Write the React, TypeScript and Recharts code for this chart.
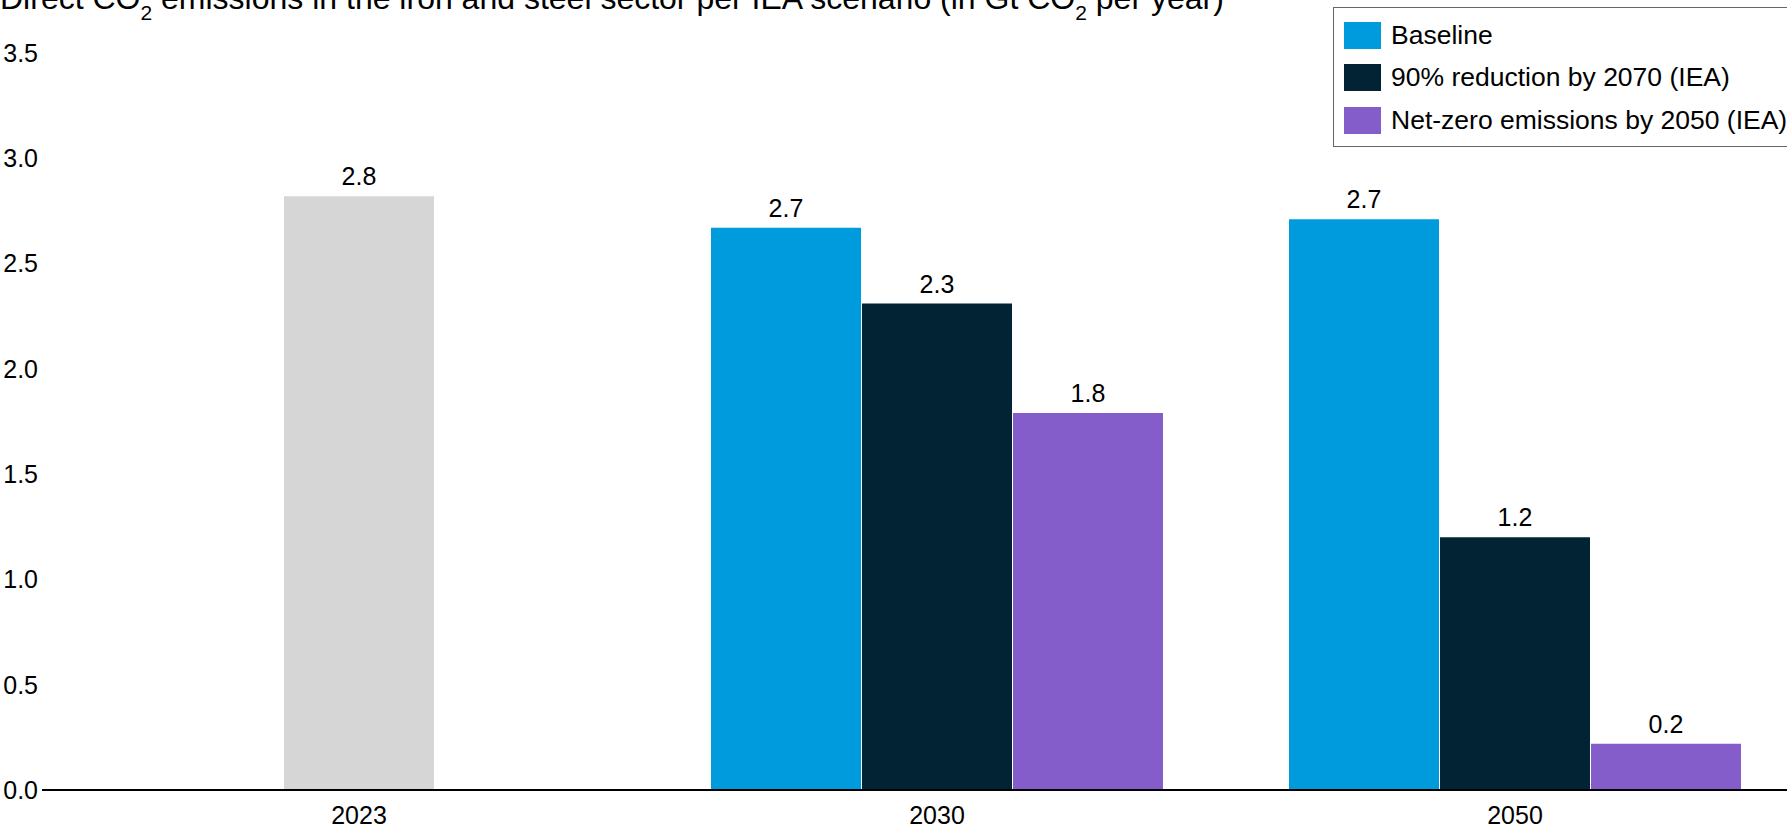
import { Bar, BarChart, LabelList, Legend, XAxis, YAxis } from "recharts";

const years = ["2023", "2030", "2050"];
const actual = [2.82, null, null];
const baseline = [null, 2.67, 2.71];
const reduction2070 = [null, 2.31, 1.2];
const netZero2050 = [null, 1.79, 0.22];
const yTicks = [0, 0.5, 1, 1.5, 2, 2.5, 3, 3.5];
const legendNames = ["Baseline", "90% reduction by 2070 (IEA)", "Net-zero emissions by 2050 (IEA)"];

const FONT = '"Liberation Sans", Arial, sans-serif';
const GREY = "#d6d6d6";
const BLUE = "#009bdc";
const NAVY = "#022334";
const PURPLE = "#845dcb";
const legendColors = [BLUE, NAVY, PURPLE];

const data = years.map((year, i) => ({
  year,
  actual: actual[i],
  baseline: baseline[i],
  reduction: reduction2070[i],
  netZero: netZero2050[i],
}));

const valueLabel = (props: any) => {
  const { x, y, width, value } = props;
  if (value == null) return null;
  return (
    <text
      x={Number(x) + Number(width) / 2}
      y={Number(y) - 11}
      textAnchor="middle"
      fill="#000"
      fontSize={25}
      fontFamily={FONT}
    >
      {Number(value).toFixed(1)}
    </text>
  );
};

const renderLegend = () => (
  <div
    style={{
      border: "1px solid #666",
      background: "#fff",
      padding: "6px 40px 4px 10px",
      fontFamily: FONT,
      fontSize: 26.5,
      color: "#000",
      whiteSpace: "nowrap",
    }}
  >
    {legendNames.map((name, i) => (
      <div key={name} style={{ display: "flex", alignItems: "center", height: 42.5 }}>
        <span style={{ width: 37, height: 27, background: legendColors[i], marginRight: 10 }} />
        <span>{name}</span>
      </div>
    ))}
  </div>
);

const sub = { fontSize: 21, verticalAlign: "-11px", lineHeight: 0 };

export default function App() {
  return (
    <div
      style={{
        position: "fixed",
        left: 0,
        top: 0,
        width: 1787,
        height: 828,
        overflow: "hidden",
        background: "#fff",
        fontFamily: FONT,
      }}
    >
      <div
        style={{
          position: "absolute",
          left: 0,
          top: -18,
          fontSize: 32,
          lineHeight: "32px",
          whiteSpace: "nowrap",
          color: "#000",
        }}
      >
        Direct CO<span style={sub}>2</span> emissions in the iron and steel sector per IEA scenario (in Gt CO
        <span style={sub}>2</span> per year)
      </div>
      <BarChart
        width={1810}
        height={828}
        data={data}
        margin={{ top: 53, right: 6, bottom: 0, left: 0 }}
        barSize={150}
        barGap={1}
      >
        <XAxis
          dataKey="year"
          padding={{ left: 28, right: 0 }}
          axisLine={{ stroke: "#000", strokeWidth: 2 }}
          tickLine={false}
          tickSize={0}
          tickMargin={16}
          height={38}
          tick={{ fill: "#000", fontSize: 25, fontFamily: FONT }}
        />
        <YAxis
          domain={[0, 3.5]}
          ticks={yTicks}
          width={42}
          axisLine={false}
          tickLine={false}
          tickSize={0}
          tickMargin={4}
          tickFormatter={(v: number) => v.toFixed(1)}
          tick={{ fill: "#000", fontSize: 25, fontFamily: FONT }}
        />
        <Legend
          layout="vertical"
          align="center"
          verticalAlign="middle"
          wrapperStyle={{ position: "absolute", left: 1333, top: 7, width: "auto" }}
          content={renderLegend}
        />
        <Bar dataKey="baseline" stackId="a" fill={BLUE} isAnimationActive={false}>
          <LabelList dataKey="baseline" content={valueLabel} />
        </Bar>
        <Bar dataKey="actual" stackId="m" fill={GREY} legendType="none" isAnimationActive={false}>
          <LabelList dataKey="actual" content={valueLabel} />
        </Bar>
        <Bar dataKey="reduction" stackId="m" fill={NAVY} isAnimationActive={false}>
          <LabelList dataKey="reduction" content={valueLabel} />
        </Bar>
        <Bar dataKey="netZero" stackId="c" fill={PURPLE} isAnimationActive={false}>
          <LabelList dataKey="netZero" content={valueLabel} />
        </Bar>
      </BarChart>
    </div>
  );
}
